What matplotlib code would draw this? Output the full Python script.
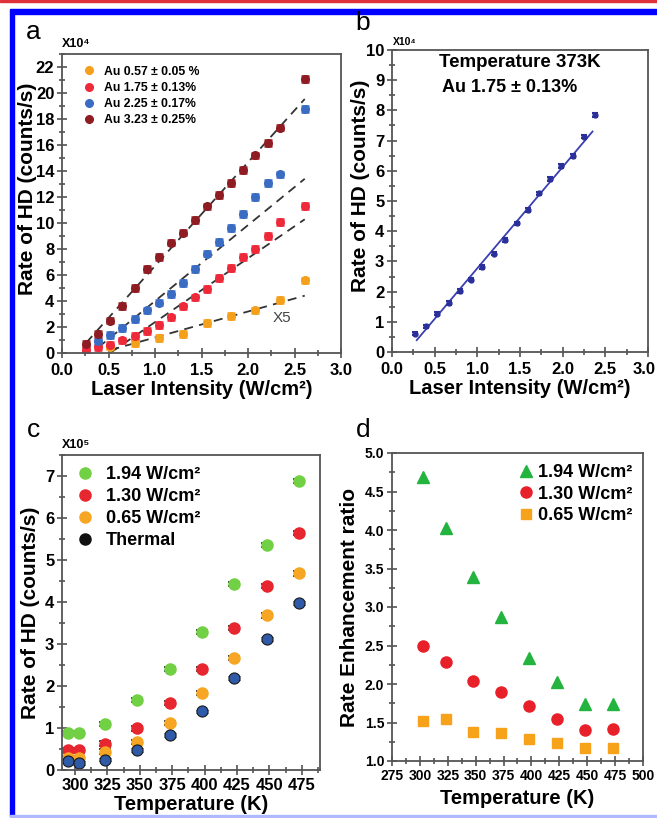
import numpy as np
import matplotlib
matplotlib.use("Agg")
import matplotlib.pyplot as plt
from matplotlib.lines import Line2D
from matplotlib.patches import Rectangle
from matplotlib.ticker import MultipleLocator, FormatStrFormatter, FuncFormatter
from matplotlib.transforms import ScaledTranslation

plt.rcParams['font.family'] = ['Liberation Sans', 'DejaVu Sans']
plt.rcParams['font.weight'] = 'bold'

W, H = 657, 818

# ---- panel a: rate vs laser intensity for four Au loadings
int_a = [0.26, 0.39, 0.52, 0.65, 0.78, 0.91, 1.04, 1.17, 1.30, 1.43, 1.56, 1.69,
         1.82, 1.95, 2.08, 2.21, 2.34, 2.61]
au323 = [0.71, 1.46, 2.50, 3.63, 4.99, 6.47, 7.41, 8.49, 9.26, 10.23, 11.28, 12.15,
         13.1, 14.07, 15.2, 16.16, 17.34, 21.05]
au175 = [0.25, 0.43, 0.64, 0.97, 1.33, 1.70, 2.17, 2.74, 3.58, 4.27, 4.95, 5.78,
         6.52, 7.37, 8.0, 9.0, 10.07, 11.33]
int_blue = int_a[1:]
au225 = [0.89, 1.40, 1.92, 2.63, 3.27, 3.88, 4.53, 5.37, 6.45, 7.65, 8.53, 9.59,
         10.69, 12.02, 13.1, 13.74, 18.75]
int_orange = [0.52, 0.78, 1.04, 1.30, 1.56, 1.82, 2.08, 2.34, 2.61]
au057 = [0.5, 0.77, 1.15, 1.46, 2.3, 2.86, 3.27, 4.1, 5.58]
labels_a = ['Au 0.57 ± 0.05 %', 'Au 1.75 ± 0.13%', 'Au 2.25 ± 0.17%', 'Au 3.23 ± 0.25%']

# ---- panel b: 1.75% Au at 373 K
int_b = [0.27, 0.40, 0.53, 0.67, 0.80, 0.93, 1.06, 1.19, 1.32, 1.46, 1.59, 1.72,
         1.85, 1.98, 2.12, 2.25, 2.38]
rate_b = [0.61, 0.85, 1.27, 1.62, 2.01, 2.40, 2.82, 3.26, 3.70, 4.26, 4.70, 5.25,
          5.73, 6.16, 6.49, 7.13, 7.85]

# ---- panel c: rate vs temperature
temp_c = [295, 303, 323, 348, 373, 398, 423, 448, 473]
c194 = [0.88, 0.88, 1.10, 1.66, 2.40, 3.29, 4.42, 5.36, 6.88]
c130 = [0.48, 0.48, 0.63, 0.99, 1.60, 2.41, 3.39, 4.39, 5.65]
c065 = [0.28, 0.28, 0.44, 0.67, 1.11, 1.83, 2.67, 3.68, 4.68]
thermal = [0.22, 0.17, 0.25, 0.48, 0.83, 1.40, 2.19, 3.12, 3.98]
labels_c = ['1.94 W/cm²', '1.30 W/cm²', '0.65 W/cm²', 'Thermal']

# ---- panel d: enhancement ratio
temp_d = [303, 323, 348, 373, 398, 423, 448, 473]
r194 = [4.69, 4.03, 3.39, 2.87, 2.34, 2.03, 1.74, 1.74]
r130 = [2.49, 2.28, 2.04, 1.90, 1.71, 1.55, 1.40, 1.42]
r065 = [1.52, 1.54, 1.38, 1.36, 1.29, 1.23, 1.17, 1.17]

ORANGE, RED, BLUE, DRED = '#f5a01a', '#ee2a3a', '#3b6cc4', '#8e1c22'


def rect(l, t, r, b):
    return [l / W, 1 - b / H, (r - l) / W, (b - t) / H]


def style(ax, fs=12, xpad=4):
    for s in ax.spines.values():
        s.set_color('#555555')
        s.set_linewidth(1.3)
    ax.tick_params(which='both', direction='inout', top=False, right=False,
                   color='#444444', width=1.1, labelsize=fs)
    ax.tick_params(axis='x', pad=xpad)
    ax.tick_params(axis='y', pad=2)
    ax.tick_params(which='major', length=7)
    ax.tick_params(which='minor', length=4)


fig = plt.figure(figsize=(W / 100, H / 100), dpi=100)

# frame bits around the figure
fig.patches.append(Rectangle((0, 1 - 1.5 / H), 1, 1.5 / H, transform=fig.transFigure,
                             color='#e0303a', zorder=0))
fig.patches.append(Rectangle((10 / W, 1 - 14 / H), 1, 5 / H, transform=fig.transFigure,
                             color='#0000ff', zorder=0))
fig.patches.append(Rectangle((10 / W, 2 / H), 4 / W, 1 - 16 / H, transform=fig.transFigure,
                             color='#0000ff', zorder=0))
fig.patches.append(Rectangle((10 / W, 1 / H), 1, 2 / H, transform=fig.transFigure,
                             color='#b0b8ff', zorder=0))

# ================= a
ax = fig.add_axes(rect(62, 54, 341, 353))
series = [(int_orange, au057, ORANGE, (0.5, 2.4)),
          (int_a, au175, RED, (0.5, 2.1)),
          (int_blue, au225, BLUE, (0.3, 1.7)),
          (int_a, au323, DRED, (0.2, 2.4))]
for xs, ys, c, (lo, hi) in series:
    xs = np.array(xs)
    ys = np.array(ys)
    m = (xs >= lo) & (xs <= hi)
    k, b0 = np.polyfit(xs[m], ys[m], 1)
    xl = np.array([xs[m][0], xs[-1]])
    ax.plot(xl, k * xl + b0, ls=(0, (5, 3.5)), color='#333333', lw=1.3, zorder=1)
    ax.errorbar(xs, ys, yerr=0.22, fmt='o', color=c, ms=5.5, capsize=3,
                elinewidth=1.2, capthick=1.8, zorder=2)
ax.set_xlim(0, 3.0)
ax.set_ylim(0, 23)
ax.xaxis.set_major_locator(MultipleLocator(0.5))
ax.xaxis.set_minor_locator(MultipleLocator(0.25))
ax.yaxis.set_major_locator(MultipleLocator(2))
ax.yaxis.set_minor_locator(MultipleLocator(1))
style(ax)
ax.set_xlabel('Laser Intensity (W/cm²)', fontsize=14.5, fontweight='bold')
ax.set_ylabel('Rate of HD (counts/s)', fontsize=15, fontweight='bold')
ax.xaxis.set_label_coords(0.5, -0.09)
ax.yaxis.set_label_coords(-0.09, 0.55)
ax.text(2.27, 2.7, 'X5', fontsize=11, color='#444444', fontweight='normal', va='center')
ax.text(0, 1.012, 'X10⁴', transform=ax.transAxes, fontsize=9, va='bottom')
hd = [Line2D([], [], ls='', marker='o', ms=5.5, color=c) for c in (ORANGE, RED, BLUE, DRED)]
ax.legend(hd, labels_a, loc='upper left', bbox_to_anchor=(0.045, 0.99), frameon=False,
          prop={'size': 8.8, 'weight': 'bold'}, labelspacing=0.35, handletextpad=0.7,
          handlelength=1.0, borderpad=0.2)

# ================= b
ax = fig.add_axes(rect(392, 50, 648, 352))
xb = np.array(int_b)
yb = np.array(rate_b)
k, b0 = np.polyfit(xb[:-1], yb[:-1], 1)
xl = np.array([xb[0] + 0.02, xb[-1] - 0.03])
ax.plot(xl, k * xl + b0, color='#3a40b0', lw=1.3, zorder=1)
ax.errorbar(xb, yb, yerr=0.06, fmt='o', color='#2b2f9a', ms=3.5, capsize=2.5,
            elinewidth=1, capthick=1.5, zorder=2)
ax.set_xlim(0, 3.0)
ax.set_ylim(0, 10)
ax.xaxis.set_major_locator(MultipleLocator(0.5))
ax.xaxis.set_minor_locator(MultipleLocator(0.25))
# the last label sits at the picture edge, it is drawn by hand below
ax.xaxis.set_major_formatter(FuncFormatter(lambda v, p: '' if v > 2.99 else f'{v:.1f}'))
ax.yaxis.set_major_locator(MultipleLocator(1))
ax.yaxis.set_minor_locator(MultipleLocator(0.5))
style(ax)
ax.text(0.986, 0, '3.0', fontsize=12, ha='center', va='top',
        transform=ax.transAxes + ScaledTranslation(0, -7.5 / 72, fig.dpi_scale_trans))
ax.set_xlabel('Laser Intensity (W/cm²)', fontsize=14.5, fontweight='bold')
ax.set_ylabel('Rate of HD (counts/s)', fontsize=15, fontweight='bold')
ax.xaxis.set_label_coords(0.5, -0.09)
ax.yaxis.set_label_coords(-0.085, 0.55)
ax.text(0.545, 9.57, 'Temperature 373K', fontsize=13.5, va='center')
ax.text(0.59, 8.77, 'Au 1.75 ± 0.13%', fontsize=13, va='center')
ax.text(0.005, 1.01, 'X10⁴', transform=ax.transAxes, fontsize=7.5, va='bottom')

# ================= c
ax = fig.add_axes(rect(62, 455, 320, 770))
for ys, c in ((c194, '#72d044'), (c130, '#e8262f'), (c065, '#f6a623')):
    ax.errorbar(temp_c, ys, yerr=0.05, fmt='o', color=c, ms=8, ecolor='#222222',
                capsize=4.5, elinewidth=1, capthick=1.2, zorder=2)
ax.errorbar(temp_c, thermal, yerr=0.04, fmt='o', color='#2f5aa8', mec='#1a1a1a', mew=0.8,
            ms=8, ecolor='#222222', capsize=4.5, elinewidth=1, capthick=1.2, zorder=2)
ax.set_xlim(290, 489)
ax.set_ylim(0, 7.5)
ax.xaxis.set_major_locator(MultipleLocator(25))
ax.xaxis.set_minor_locator(MultipleLocator(12.5))
ax.yaxis.set_major_locator(MultipleLocator(1))
ax.yaxis.set_minor_locator(MultipleLocator(0.5))
style(ax, xpad=2)
ax.set_xlabel('Temperature (K)', fontsize=14.5, fontweight='bold')
ax.set_ylabel('Rate of HD (counts/s)', fontsize=15, fontweight='bold')
ax.xaxis.set_label_coords(0.5, -0.08)
ax.yaxis.set_label_coords(-0.085, 0.5)
ax.text(0, 1.012, 'X10⁵', transform=ax.transAxes, fontsize=9, va='bottom')
hd = [Line2D([], [], ls='', marker='o', ms=8, color=c)
      for c in ('#72d044', '#e8262f', '#f6a623', '#111111')]
ax.legend(hd, labels_c, loc='upper left', bbox_to_anchor=(0.0, 1.005), frameon=False,
          prop={'size': 13, 'weight': 'bold'}, labelspacing=0.28, handletextpad=0.55,
          handlelength=1.2, borderpad=0.2)

# ================= d
ax = fig.add_axes(rect(392, 453, 643, 761))
ax.plot(temp_d, r194, ls='', marker='^', ms=8, color='#22b43e', label='1.94 W/cm²')
ax.plot(temp_d, r130, ls='', marker='o', ms=8, color='#e8202a', label='1.30 W/cm²')
ax.plot(temp_d, r065, ls='', marker='s', ms=7, color='#f6a21b', label='0.65 W/cm²')
ax.set_xlim(275, 500)
ax.set_ylim(1.0, 5.0)
ax.xaxis.set_major_locator(MultipleLocator(25))
ax.xaxis.set_minor_locator(MultipleLocator(12.5))
ax.yaxis.set_major_locator(MultipleLocator(0.5))
ax.yaxis.set_minor_locator(MultipleLocator(0.25))
ax.yaxis.set_major_formatter(FormatStrFormatter('%.1f'))
style(ax, fs=10, xpad=2)
ax.set_xlabel('Temperature (K)', fontsize=14.5, fontweight='bold')
ax.set_ylabel('Rate Enhancement ratio', fontsize=15, fontweight='bold')
ax.xaxis.set_label_coords(0.5, -0.09)
ax.yaxis.set_label_coords(-0.13, 0.5)
ax.legend(loc='upper right', bbox_to_anchor=(1.01, 1.005), frameon=False,
          prop={'size': 13, 'weight': 'bold'}, labelspacing=0.25, handletextpad=0.2,
          handlelength=1.0, borderpad=0.2)

# panel letters
for s, x, y in (('a', 33, 32), ('b', 363, 23), ('c', 33, 430), ('d', 363, 430)):
    fig.text(x / W, 1 - y / H, s, fontsize=19, fontweight='normal', ha='center', va='center')

fig.savefig('out.png', dpi=100)
